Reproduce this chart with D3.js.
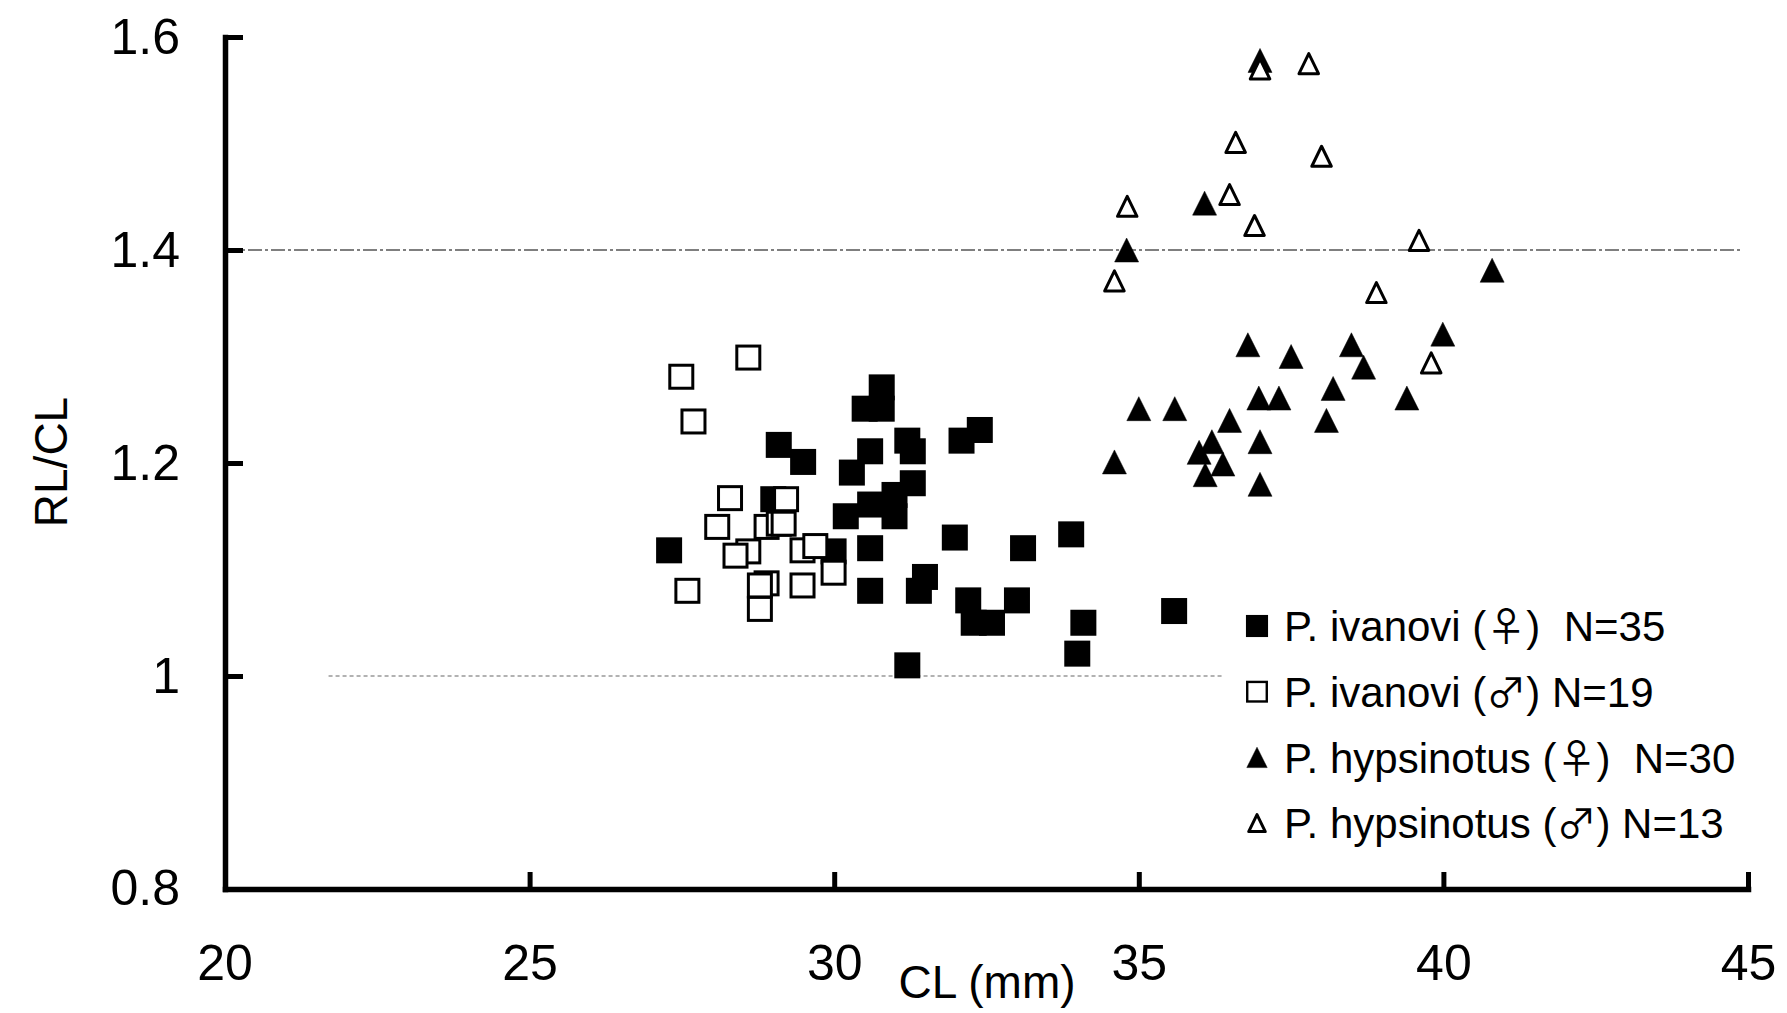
<!DOCTYPE html>
<html><head><meta charset="utf-8">
<script src="https://cdn.jsdelivr.net/npm/d3@7"></script>
<style>
html,body{margin:0;padding:0;background:#fff;}
svg{display:block;}
text{font-family:"Liberation Sans",Arial,sans-serif;fill:#000;}
</style></head><body>
<script>
// ---- data ----
const xTicks = [20, 25, 30, 35, 40, 45];
const yTicks = [0.8, 1.0, 1.2, 1.4, 1.6];
const yTickLabels = ["0.8", "1", "1.2", "1.4", "1.6"];
const xLabel = "CL (mm)";
const yLabel = "RL/CL";

// P. ivanovi female (filled squares)
const ivanoviF_x = [27.29,29.09,29.49,29.0,29.99,30.78,30.50,30.78,30.59,30.29,31.20,31.29,32.09,32.39,31.29,30.99,30.59,30.19,30.99,30.59,31.98,33.10,33.89,30.59,31.49,31.39,32.20,33.0,32.29,32.59,34.09,33.99,31.20,35.58];
const ivanoviF_y = [1.118,1.217,1.201,1.166,1.117,1.271,1.251,1.251,1.211,1.191,1.221,1.211,1.221,1.231,1.181,1.170,1.161,1.150,1.150,1.120,1.130,1.120,1.133,1.080,1.093,1.080,1.071,1.071,1.050,1.050,1.050,1.021,1.010,1.061];

// P. ivanovi male (open squares)
const ivanoviM_x = [27.49,28.59,27.69,28.29,29.21,28.08,28.89,29.09,29.17,27.59,28.59,28.38,29.48,29.69,29.99,28.89,28.78,28.78,29.48];
const ivanoviM_y = [1.281,1.299,1.239,1.167,1.166,1.140,1.140,1.143,1.143,1.080,1.117,1.113,1.118,1.122,1.097,1.087,1.085,1.063,1.085];

// P. hypsinotus female (filled triangles)
const hypsF_x = [34.6,35.0,34.8,35.59,36.79,37.50,38.49,38.69,39.99,36.97,37.30,38.19,39.40,38.08,36.49,36.99,36.20,35.99,36.38,36.09,36.99,36.08,40.80,36.99];
const hypsF_y = [1.201,1.251,1.400,1.251,1.311,1.300,1.311,1.290,1.321,1.261,1.261,1.270,1.261,1.240,1.240,1.220,1.220,1.210,1.199,1.189,1.180,1.444,1.381,1.578];

// P. hypsinotus male (open triangles)
const hypsM_x = [36.99,37.79,36.59,38.0,36.49,36.9,39.6,38.9,39.8,34.81,34.60];
const hypsM_y = [1.570,1.575,1.501,1.488,1.452,1.423,1.409,1.360,1.294,1.441,1.371];

// legend: species name, sex symbol, count text
const legendNames = ["P. ivanovi (", "P. ivanovi (", "P. hypsinotus (", "P. hypsinotus ("];
const legendSex = ["\u2640", "\u2642", "\u2640", "\u2642"];
const legendCounts = [")\u00a0\u00a0N=35", ") N=19", ")\u00a0\u00a0N=30", ") N=13"];
const legendShapes = ["sqF", "sqO", "triF", "triO"];

// grid lines: [value, xStart, xEnd]
const gridY = [1.4, 1.0];
const gridFrom = [20, 21.7];
const gridTo = [44.9, 36.4];

// ---- drawing ----
const W = 1787, H = 1013;
const svg = d3.select("body").append("svg").attr("width", W).attr("height", H);

const x = d3.scaleLinear().domain([20, 45]).range([225, 1748]);
const y = d3.scaleLinear().domain([0.8, 1.6]).range([889, 37]);

// gridlines
gridY.forEach((v, i) => {
  svg.append("line")
    .attr("x1", x(gridFrom[i])).attr("x2", x(gridTo[i]))
    .attr("y1", y(v)).attr("y2", y(v))
    .attr("stroke", i === 0 ? "#555" : "#999")
    .attr("stroke-width", 1.3)
    .attr("stroke-dasharray", i === 0 ? "14 3 3 3" : "4 3");
});

// axes
const axL = d3.axisLeft(y).tickValues(yTicks.slice(1)).tickSize(-18).tickSizeOuter(0).tickPadding(45)
  .tickFormat((d) => yTickLabels[yTicks.indexOf(d)]);
const gL = svg.append("g").attr("transform", `translate(${x(20)},0)`).call(axL);
const axB = d3.axisBottom(x).tickValues(xTicks.slice(1)).tickSize(-17).tickSizeOuter(0).tickPadding(55);
const gB = svg.append("g").attr("transform", `translate(0,${y(0.8)})`).call(axB);

[gL, gB].forEach(g => {
  g.select(".domain").attr("stroke", "#000").attr("stroke-width", 5.5).attr("stroke-linecap", "square");
  g.selectAll(".tick line").attr("stroke", "#000").attr("stroke-width", 5);
  g.selectAll(".tick text").attr("font-size", 50).attr("font-family", "Liberation Sans, Arial, sans-serif").attr("fill", "#000");
});
// separate labels for 0.8 and 20 (axis end values)
gL.append("text").attr("x", -45).attr("y", 0).attr("dy", "0.32em")
  .attr("transform", `translate(0,${y(0.8)})`)
  .attr("text-anchor", "end").attr("font-size", 50).text(yTickLabels[0]);
gB.append("text").attr("x", x(20)).attr("y", 55).attr("dy", "0.71em")
  .attr("text-anchor", "middle").attr("font-size", 50).text(String(xTicks[0]));

// axis titles
svg.append("text").attr("x", 987).attr("y", 982).attr("dy", "0.35em")
  .attr("text-anchor", "middle").attr("font-size", 46).text(xLabel);
svg.append("text").attr("transform", `translate(51,462) rotate(-90)`).attr("dy", "0.35em")
  .attr("text-anchor", "middle").attr("font-size", 46).text(yLabel);

// marker generators
function triPath(w, h) {
  return `M0,${-h/2}L${w/2},${h/2}L${-w/2},${h/2}Z`;
}
function drawMarker(g, shape, big) {
  const s = big ? 1 : 0.85;
  if (shape === "sqF") {
    g.append("rect").attr("x", -13*s).attr("y", -13*s).attr("width", 26*s).attr("height", 26*s).attr("fill", "#000");
  } else if (shape === "sqO") {
    g.append("rect").attr("x", -11.5*s).attr("y", -11.5*s).attr("width", 23*s).attr("height", 23*s)
      .attr("fill", "#fff").attr("stroke", "#000").attr("stroke-width", big ? 3 : 2.4);
  } else if (shape === "triF") {
    g.append("path").attr("d", triPath(24*s, 24*s)).attr("fill", "#000").attr("stroke", "#000").attr("stroke-width", 0.5);
  } else {
    g.append("path").attr("d", triPath(19.5*s, 20*s)).attr("fill", "#fff").attr("stroke", "#000")
      .attr("stroke-width", 3).attr("stroke-linejoin", "round");
  }
}

const series = [
  {xs: ivanoviF_x, ys: ivanoviF_y, shape: "sqF"},
  {xs: ivanoviM_x, ys: ivanoviM_y, shape: "sqO"},
  {xs: hypsF_x, ys: hypsF_y, shape: "triF"},
  {xs: hypsM_x, ys: hypsM_y, shape: "triO"}
];
series.forEach(sr => {
  const pts = sr.xs.map((v, i) => ({x: v, y: sr.ys[i]}));
  svg.append("g").selectAll("g").data(pts).join("g")
    .attr("transform", d => `translate(${x(d.x)},${y(d.y)})`)
    .each(function() { drawMarker(d3.select(this), sr.shape, true); });
});

// legend
const lg = svg.append("g");
lg.append("rect").attr("x", 1232).attr("y", 596).attr("width", 520).attr("height", 260).attr("fill", "#fff");
legendNames.forEach((nm, i) => {
  const cy = 626 + i * 65.7;
  const m = lg.append("g").attr("transform", `translate(1257,${cy})`);
  drawMarker(m, legendShapes[i], false);
  const t = lg.append("text").attr("x", 1284).attr("y", cy).attr("dy", "0.36em").attr("font-size", 42);
  t.append("tspan").text(nm);
  t.append("tspan").attr("font-family", "Noto Sans CJK JP, sans-serif").attr("font-size", 40).text(legendSex[i]);
  t.append("tspan").text(legendCounts[i]);
});
</script>
</body></html>
